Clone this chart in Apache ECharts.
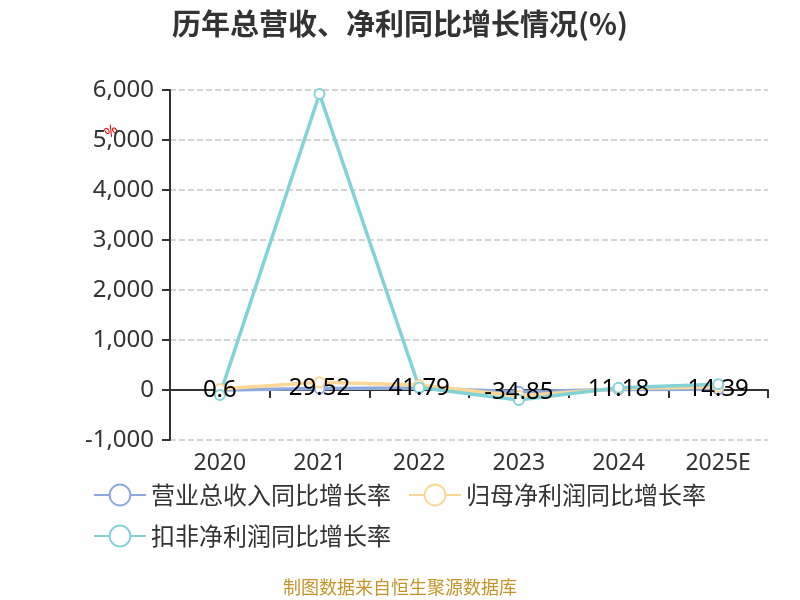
<!DOCTYPE html>
<html>
<head>
<meta charset="utf-8">
<script src="https://cdn.jsdelivr.net/npm/echarts@6/dist/echarts.min.js"></script>
<style>
  html, body { margin: 0; padding: 0; background: #fff; }
  #main { width: 800px; height: 600px; }
</style>
</head>
<body>
<div id="main"></div>
<script>
// 年份
var years = ['2020', '2021', '2022', '2023', '2024', '2025E'];
// 营业总收入同比增长率
var revenueGrowth = [0.6, 29.52, 41.79, -34.85, 11.18, 14.39];
// 归母净利润同比增长率
var netProfitGrowth = [20, 155, 100, -120, 30, 60];
// 扣非净利润同比增长率
var deductedGrowth = [-100, 5920, 50, -200, 47, 113];
var seriesNames = ['营业总收入同比增长率', '归母净利润同比增长率', '扣非净利润同比增长率'];

var myChart = echarts.init(document.getElementById('main'));

var option = {
    backgroundColor: '#fff',
    color: ['#8eaadc', '#fdd795', '#82d3d7'],
    title: {
        text: '历年总营收、净利同比增长情况(%)',
        left: 'center',
        top: 4,
        textStyle: {
            fontFamily: 'Noto Sans CJK SC',
            fontSize: 29,
            fontWeight: 'bold',
            color: '#333'
        }
    },
    grid: {
        left: 170,
        right: 32,
        top: 90,
        bottom: 160
    },
    legend: {
        left: 88,
        top: 478,
        width: 700,
        itemWidth: 52,
        itemHeight: 26,
        itemGap: 17,
        textStyle: {
            fontFamily: 'Noto Sans CJK SC',
            fontSize: 24,
            color: '#333'
        },
        data: seriesNames
    },
    xAxis: {
        type: 'category',
        data: years,
        axisLine: { onZero: true, lineStyle: { color: '#333', width: 2 } },
        axisTick: { show: true, length: 8, lineStyle: { color: '#333', width: 2 } },
        axisLabel: {
            margin: 12,
            fontFamily: 'Noto Sans',
            fontSize: 23,
            color: '#333'
        }
    },
    yAxis: {
        type: 'value',
        min: -1000,
        max: 6000,
        interval: 1000,
        axisLine: { show: true, lineStyle: { color: '#333', width: 2 } },
        axisTick: { show: true, length: 8, lineStyle: { color: '#333', width: 2 } },
        axisLabel: {
            margin: 16,
            fontFamily: 'Noto Sans',
            fontSize: 24,
            color: '#333'
        },
        splitLine: { lineStyle: { type: 'dashed', color: '#c8c8c8', width: 1.5 } }
    },
    graphic: [{
        type: 'text',
        left: 102,
        top: 122,
        rotation: Math.PI / 5,
        style: {
            text: '%',
            fill: '#ff0000',
            font: '15px Noto Sans'
        }
    }, {
        // 底部来源
        type: 'text',
        left: 'center',
        top: 578,
        style: {
            text: '制图数据来自恒生聚源数据库',
            fill: '#c4942a',
            font: '18px Noto Sans CJK SC'
        }
    }],
    series: [{
        name: seriesNames[0],
        type: 'line',
        data: revenueGrowth,
        symbol: 'emptyCircle',
        symbolSize: 10,
        lineStyle: { width: 3.5 },
        label: {
            show: true,
            position: 'inside',
            fontFamily: 'Noto Sans',
            fontSize: 24,
            color: '#000'
        }
    }, {
        name: seriesNames[1],
        type: 'line',
        data: netProfitGrowth,
        symbol: 'emptyCircle',
        symbolSize: 10,
        lineStyle: { width: 3.5 }
    }, {
        name: seriesNames[2],
        type: 'line',
        data: deductedGrowth,
        symbol: 'emptyCircle',
        symbolSize: 10,
        lineStyle: { width: 3.5 }
    }],
    animation: false
};

myChart.setOption(option);
window.onresize = myChart.resize;
</script>
</body>
</html>
